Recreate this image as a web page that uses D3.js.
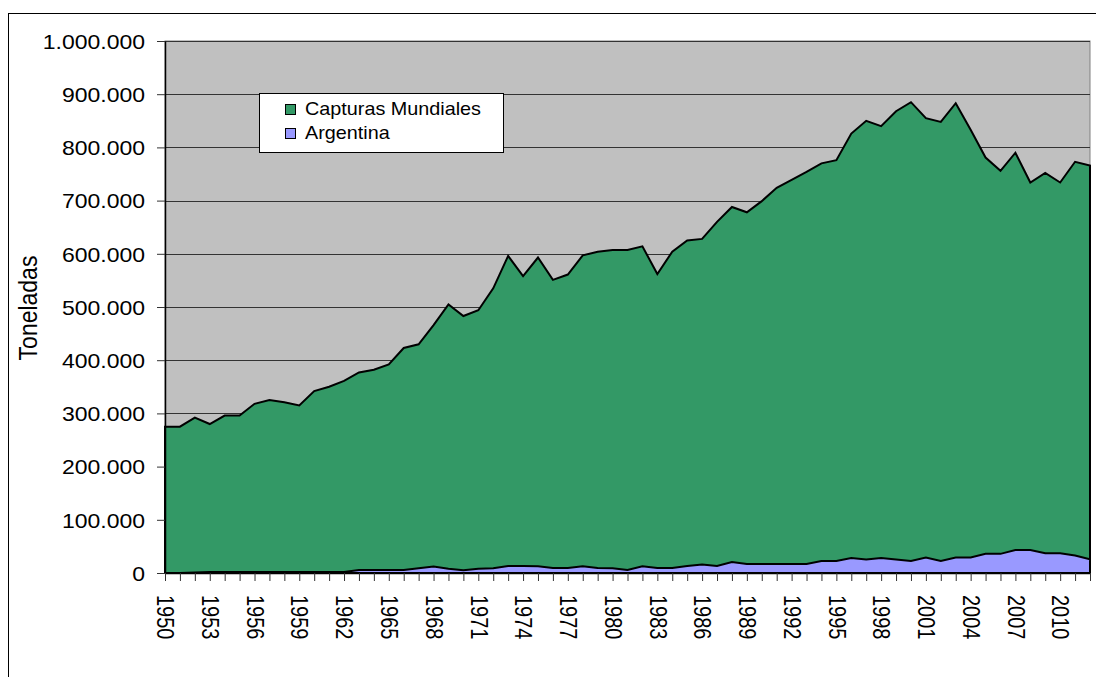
<!DOCTYPE html>
<html>
<head>
<meta charset="utf-8">
<script src="https://cdn.jsdelivr.net/npm/d3@7"></script>
<style>
  body { margin: 0; background: #fff; }
  svg { display: block; font-family: Arial, "Liberation Sans", sans-serif; }
</style>
</head>
<body>
<div id="chart"></div>
<script>
"use strict";

// years on the category axis
var years = [1950, 1951, 1952, 1953, 1954, 1955, 1956, 1957, 1958, 1959,
             1960, 1961, 1962, 1963, 1964, 1965, 1966, 1967, 1968, 1969,
             1970, 1971, 1972, 1973, 1974, 1975, 1976, 1977, 1978, 1979,
             1980, 1981, 1982, 1983, 1984, 1985, 1986, 1987, 1988, 1989,
             1990, 1991, 1992, 1993, 1994, 1995, 1996, 1997, 1998, 1999,
             2000, 2001, 2002, 2003, 2004, 2005, 2006, 2007, 2008, 2009,
             2010, 2011, 2012];

// labelled years (every 3)
var yearLabels = [1950, 1953, 1956, 1959, 1962, 1965, 1968, 1971, 1974, 1977,
                  1980, 1983, 1986, 1989, 1992, 1995, 1998, 2001, 2004, 2007, 2010];

// Capturas Mundiales (toneladas)
var mundiales = [275000, 275000, 292000, 280000, 296000, 296000, 318000, 325000, 321000, 315000,
                 342000, 350000, 361000, 377000, 382000, 392000, 423000, 430000, 466000, 505000,
                 483000, 494000, 535000, 596000, 558000, 593000, 551000, 561000, 597000, 604000,
                 607000, 607000, 614000, 562000, 604000, 625000, 628000, 660000, 688000, 678000,
                 699000, 724000, 739000, 754000, 770000, 776000, 826000, 850000, 840000, 868000,
                 885000, 855000, 848000, 883000, 833000, 781000, 756000, 790000, 734000, 752000,
                 734000, 773000, 766000];

// Argentina (toneladas)
var argentina = [0, 0, 1000, 2000, 2000, 2000, 2000, 2000, 2000, 2000,
                 2000, 2000, 2000, 5500, 5500, 5500, 5500, 9000, 12000, 8000,
                 5000, 8000, 9000, 13000, 13000, 12500, 9500, 9500, 12500, 9500,
                 9000, 5500, 12500, 9500, 9500, 13000, 16000, 13000, 20500, 17000,
                 17000, 17000, 17000, 17000, 22500, 22500, 28000, 25500, 28000, 25500,
                 22500, 29000, 22500, 29000, 29000, 36000, 36000, 43000, 43000, 37000,
                 37000, 33000, 26000];

var yTicks = [0, 100000, 200000, 300000, 400000, 500000, 600000, 700000, 800000, 900000, 1000000];

var seriesNames = ["Capturas Mundiales", "Argentina"];
var seriesColors = ["#339966", "#9999FF"];

// the source picture is stretched sideways a bit
var sx = 1.15;

var W = 1096, H = 677;
var plotL = 165, plotR = 1090, plotT = 41, plotB = 573;

var svg = d3.select("#chart").append("svg")
  .attr("width", W)
  .attr("height", H);

// outer chart border
svg.append("rect")
  .attr("x", 8.5).attr("y", 13.5)
  .attr("width", W + 20).attr("height", H + 20)
  .attr("fill", "#fff")
  .attr("stroke", "#000")
  .attr("stroke-width", 1);

var x = d3.scalePoint().domain(years).range([plotL, plotR]);
var y = d3.scaleLinear().domain([0, 1000000]).range([plotB, plotT]);

// plot background
svg.append("rect")
  .attr("x", plotL).attr("y", plotT)
  .attr("width", plotR - plotL).attr("height", plotB - plotT)
  .attr("fill", "#C0C0C0")
  .attr("stroke", "#808080")
  .attr("stroke-width", 1);

// gridlines
svg.append("g").selectAll("line")
  .data(yTicks.filter(function(d) { return d > 0; }))
  .enter().append("line")
  .attr("x1", plotL).attr("x2", plotR)
  .attr("y1", function(d) { return Math.round(y(d)) + 0.5; })
  .attr("y2", function(d) { return Math.round(y(d)) + 0.5; })
  .attr("stroke", "#333")
  .attr("stroke-width", 1);

var area = function(vals) {
  return d3.area()
    .x(function(d, i) { return x(years[i]); })
    .y0(y(0))
    .y1(function(d) { return y(d); })(vals);
};

// areas (overlapping, not stacked)
[mundiales, argentina].forEach(function(vals, k) {
  svg.append("path")
    .attr("d", area(vals))
    .attr("fill", seriesColors[k])
    .attr("stroke", "#000")
    .attr("stroke-width", 2)
    .attr("stroke-linejoin", "miter");
});

var es = d3.formatLocale({ decimal: ",", thousands: ".", grouping: [3], currency: ["", ""] });
var fmt = es.format(",d");

// y axis
var yAxis = svg.append("g")
  .attr("transform", "translate(" + plotL + ",0)")
  .call(d3.axisLeft(y).tickValues(yTicks).tickSize(8).tickSizeOuter(0).tickFormat(fmt));
yAxis.select(".domain").attr("stroke", "#000").attr("stroke-width", 1.5);
yAxis.selectAll(".tick line").attr("stroke", "#333");
yAxis.selectAll(".tick text")
  .attr("x", 0)
  .attr("dy", "0.36em")
  .attr("transform", "translate(-20,0) scale(" + sx + ",1)")
  .attr("font-size", 20)
  .attr("font-family", "Arial, 'Liberation Sans', sans-serif")
  .attr("fill", "#000");

// x axis
var xAxis = svg.append("g")
  .attr("transform", "translate(0," + plotB + ")")
  .call(d3.axisBottom(x).tickValues(years).tickSize(8).tickSizeOuter(0)
    .tickFormat(function(d) { return yearLabels.indexOf(d) >= 0 ? d : ""; }));
xAxis.select(".domain").attr("stroke", "#000").attr("stroke-width", 1.5);
xAxis.selectAll(".tick line").attr("stroke", "#333");
xAxis.selectAll(".tick text")
  .attr("x", 0).attr("y", 0).attr("dy", "0.36em")
  .attr("text-anchor", "start")
  .attr("transform", "translate(0,22) scale(" + sx + ",1) rotate(90)")
  .attr("font-size", 20)
  .attr("font-family", "Arial, 'Liberation Sans', sans-serif")
  .attr("fill", "#000");

// axis title
svg.append("text")
  .attr("transform", "translate(37,308) scale(" + sx + ",1) rotate(-90)")
  .attr("text-anchor", "middle")
  .attr("font-size", 23)
  .text("Toneladas");

// legend
var lg = svg.append("g");
lg.append("rect")
  .attr("x", 259.5).attr("y", 93.5)
  .attr("width", 244).attr("height", 59)
  .attr("fill", "#fff")
  .attr("stroke", "#000");
seriesNames.forEach(function(name, k) {
  lg.append("rect")
    .attr("x", 285.5).attr("y", 104.5 + k * 24)
    .attr("width", 10).attr("height", 10)
    .attr("fill", seriesColors[k])
    .attr("stroke", "#000");
  lg.append("text")
    .attr("transform", "translate(305," + (114.5 + k * 24.5) + ") scale(1.1,1)")
    .attr("font-size", 18)
    .text(name);
});
</script>
</body>
</html>
